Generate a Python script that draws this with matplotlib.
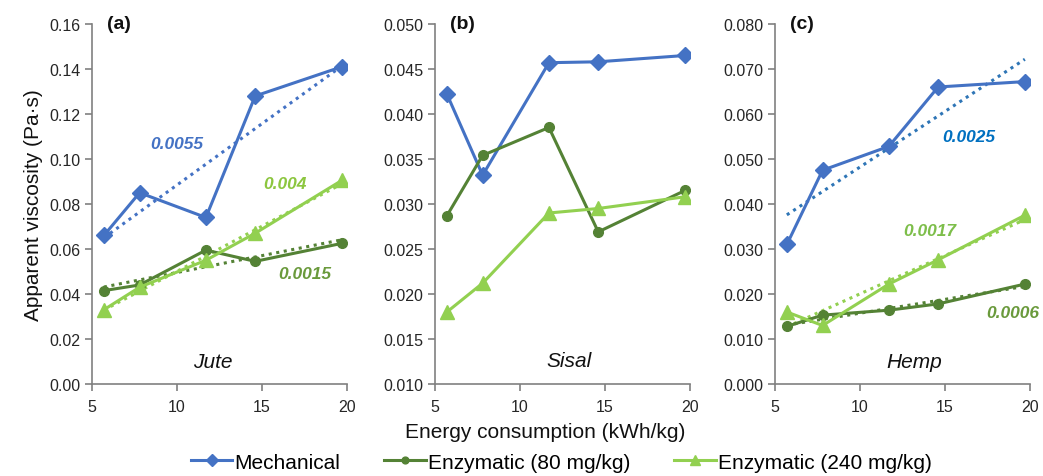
import numpy as np
import matplotlib.pyplot as plt

plt.rcParams['font.family'] = ['Liberation Sans', 'DejaVu Sans']

# Energy consumption (kWh/kg)
energy = [5.7, 7.8, 11.7, 14.6, 19.7]

# Apparent viscosity (Pa·s)
jute_mech = [0.066, 0.085, 0.074, 0.128, 0.141]
jute_enz80 = [0.0415, 0.044, 0.0595, 0.0545, 0.0625]
jute_enz240 = [0.033, 0.043, 0.055, 0.067, 0.0905]

sisal_mech = [0.0422, 0.0332, 0.0457, 0.0458, 0.0465]
sisal_enz80 = [0.0287, 0.0354, 0.0385, 0.0269, 0.0315]
sisal_enz240 = [0.018, 0.0212, 0.029, 0.0295, 0.0308]

hemp_mech = [0.031, 0.0475, 0.0528, 0.066, 0.0672]
hemp_enz80 = [0.0128, 0.0153, 0.0164, 0.0178, 0.0222]
hemp_enz240 = [0.016, 0.013, 0.0222, 0.0276, 0.0375]

c_mech = '#4472C4'
c_enz80 = '#548235'
c_enz240 = '#92D050'

fig = plt.figure(figsize=(10.43, 4.77), dpi=100)

panels = [
    # left, data, ylim, yticks, fmt, panel label, fibre name + position, trends
    (0.0882, (jute_mech, jute_enz80, jute_enz240), (0, 0.16), np.arange(0, 0.161, 0.02), '%.2f', '(a)',
     ('Jute', 12.1, 0.0102),
     [(0, c_mech, '0.0055', 10.0, 0.1067, c_mech),
      (2, c_enz240, '0.004', 16.35, 0.0893, '#8CC63F'),
      (1, c_enz80, '0.0015', 17.5, 0.0489, '#6A9A3C')]),
    (0.4171, (sisal_mech, sisal_enz80, sisal_enz240), (0.01, 0.05), np.arange(0.01, 0.0501, 0.005), '%.3f', '(b)',
     ('Sisal', 12.9, 0.01256),
     []),
    (0.7430, (hemp_mech, hemp_enz80, hemp_enz240), (0, 0.08), np.arange(0, 0.0801, 0.01), '%.3f', '(c)',
     ('Hemp', 13.2, 0.0051),
     [(0, '#2E75B6', '0.0025', 16.4, 0.0551, '#0070C0'),
      (2, c_enz240, '0.0017', 14.1, 0.034, '#7DBE4A'),
      (1, c_enz80, '0.0006', 19.0, 0.0158, '#6A9A3C')]),
]

colors = [c_mech, c_enz80, c_enz240]
markers = ['D', 'o', '^']
msizes = [8.5, 7, 9.5]
names = ['Mechanical', 'Enzymatic (80 mg/kg)', 'Enzymatic (240 mg/kg)']

handles = []
for i, (left, series, ylim, yticks, fmt, plab, fibre, trends) in enumerate(panels):
    ax = fig.add_axes([left, 0.1929, 0.2445, 0.7547])
    for j, ys in enumerate(series):
        h, = ax.plot(energy, ys, color=colors[j], marker=markers[j], ms=msizes[j], lw=2.2,
                     label=names[j], zorder=3)
        if i == 0:
            handles.append(h)
    # dotted linear trend lines
    for (j, tc, txt, tx, ty, txc) in trends:
        k, b = np.polyfit(energy, series[j], 1)
        xs = np.array([energy[0], energy[-1]])
        ax.plot(xs, k * xs + b, color=tc, ls=(0, (1, 1.5)), lw=2.2, zorder=2)
        ax.text(tx, ty, txt, color=txc, fontsize=12.5, fontweight='bold', style='italic',
                ha='center', va='center')
    ax.set_xlim(5, 20)
    ax.set_ylim(*ylim)
    ax.set_xticks([5, 10, 15, 20])
    ax.set_yticks(yticks)
    ax.yaxis.set_major_formatter(plt.FormatStrFormatter(fmt))
    for s in ['top', 'right']:
        ax.spines[s].set_visible(False)
    for s in ['left', 'bottom']:
        ax.spines[s].set_color('#808080')
        ax.spines[s].set_linewidth(1.2)
    ax.tick_params(colors='#808080', labelcolor='#262626', labelsize=11.5, length=5, width=1.2)
    ax.tick_params(axis='x', pad=6)
    ax.text(0.06, 1.0, plab, transform=ax.transAxes, fontsize=14, fontweight='bold',
            va='center', ha='left', color='#111111')
    ax.text(fibre[1], fibre[2], fibre[0], fontsize=15, style='italic', ha='center', va='center',
            color='#111111')
    if i == 0:
        ax.set_ylabel('Apparent viscosity (Pa·s)', fontsize=15, color='#111111', labelpad=4)

fig.text(0.523, 0.094, 'Energy consumption (kWh/kg)', ha='center', va='center', fontsize=15, color='#111111')
fig.legend(handles=handles, loc='center', bbox_to_anchor=(0.538, 0.029), ncol=3, frameon=False,
           fontsize=15, handlelength=2.0, columnspacing=2.1, handletextpad=0.1, markerscale=0.7)

fig.savefig('out.png', dpi=100)
